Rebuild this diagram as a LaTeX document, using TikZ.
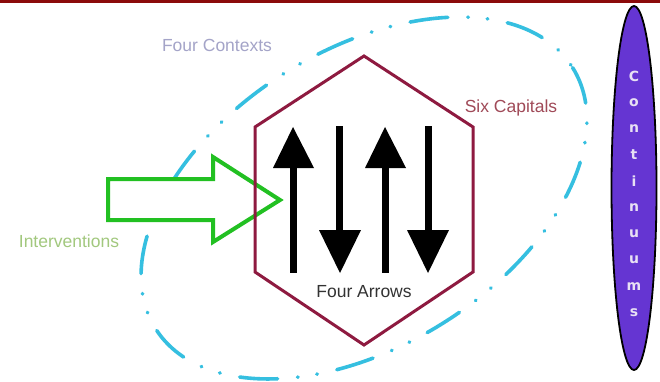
\documentclass[tikz,border=0pt]{standalone}
\usepackage{fontspec}
\setmainfont{Liberation Sans}
\newfontfamily\contfont{DejaVu Sans}
\definecolor{barred}{HTML}{8B0A0A}
\definecolor{hexred}{HTML}{8E1A40}
\definecolor{ctxcol}{HTML}{A4A4C8}
\definecolor{capcol}{HTML}{A04A58}
\definecolor{intcol}{HTML}{A2C87E}
\definecolor{arrcol}{HTML}{333333}
\definecolor{greenar}{HTML}{22C022}
\definecolor{cyanel}{HTML}{35BFE0}
\definecolor{purpel}{HTML}{6535D2}
\definecolor{letcol}{HTML}{E8E0F4}
\tikzset{
  lbl/.style={font=\fontsize{17.5}{20}\selectfont, anchor=base, inner sep=0pt},
  blackarrow/.style={fill=black, draw=none},
  contletter/.style={font=\contfont\bfseries\fontsize{14}{15}\selectfont, text=letcol, inner sep=0pt}
}
\begin{document}
\begin{tikzpicture}[x=1pt,y=-1pt]
\useasboundingbox (0,0) rectangle (660,382);
\fill[white] (0,0) rectangle (660,382);
% top bar
\fill[barred] (0,0) rectangle (660,3.5);
% contexts ellipse
\draw[cyanel, line width=3.6pt, line cap=round,
      dash pattern=on 38pt off 20pt on 0.5pt off 19pt on 0.5pt off 20pt]
  (364,198) circle[x radius=246, y radius=148, rotate=32];
% green intervention arrow
\draw[greenar, line width=4pt, line join=miter, fill=white]
  (108,179) -- (213,179) -- (213,157) -- (280,200) -- (213,242) -- (213,220) -- (108,220) -- cycle;
% hexagon
\draw[hexred, line width=3pt, line join=miter]
  (364,56) -- (473,127) -- (473,272) -- (364,345) -- (255,272) -- (255,127) -- cycle;
% four arrows
\fill[blackarrow] (289.5,165) rectangle (296.5,273);
\fill[blackarrow] (273,168) -- (314,168) -- (293,127) -- cycle;
\fill[blackarrow] (335.5,126) rectangle (342.5,235);
\fill[blackarrow] (319,230) -- (361,230) -- (340,273) -- cycle;
\fill[blackarrow] (381.5,165) rectangle (388.5,273);
\fill[blackarrow] (365,168) -- (406,168) -- (385,127) -- cycle;
\fill[blackarrow] (424.5,126) rectangle (431.5,235);
\fill[blackarrow] (407,230) -- (449,230) -- (428,273) -- cycle;
% labels
\node[lbl, text=ctxcol] (ctx) at (217,52) {Four Contexts};
\node[lbl, text=capcol] (cap) at (511,113) {Six Capitals};
\node[lbl, text=intcol] (int) at (69,247) {Interventions};
\node[lbl, text=arrcol] (arr) at (364,297) {Four Arrows};
% continuums ellipse
\draw[black, line width=1.8pt, fill=purpel] (634,188) circle[x radius=22.5, y radius=182];
\foreach \l [count=\i] in {C,o,n,t,i,n,u,u,m,s}
  \node[contletter] (c\i) at (634,{76+26.3*(\i-1)}) {\l};
\end{tikzpicture}
\end{document}
